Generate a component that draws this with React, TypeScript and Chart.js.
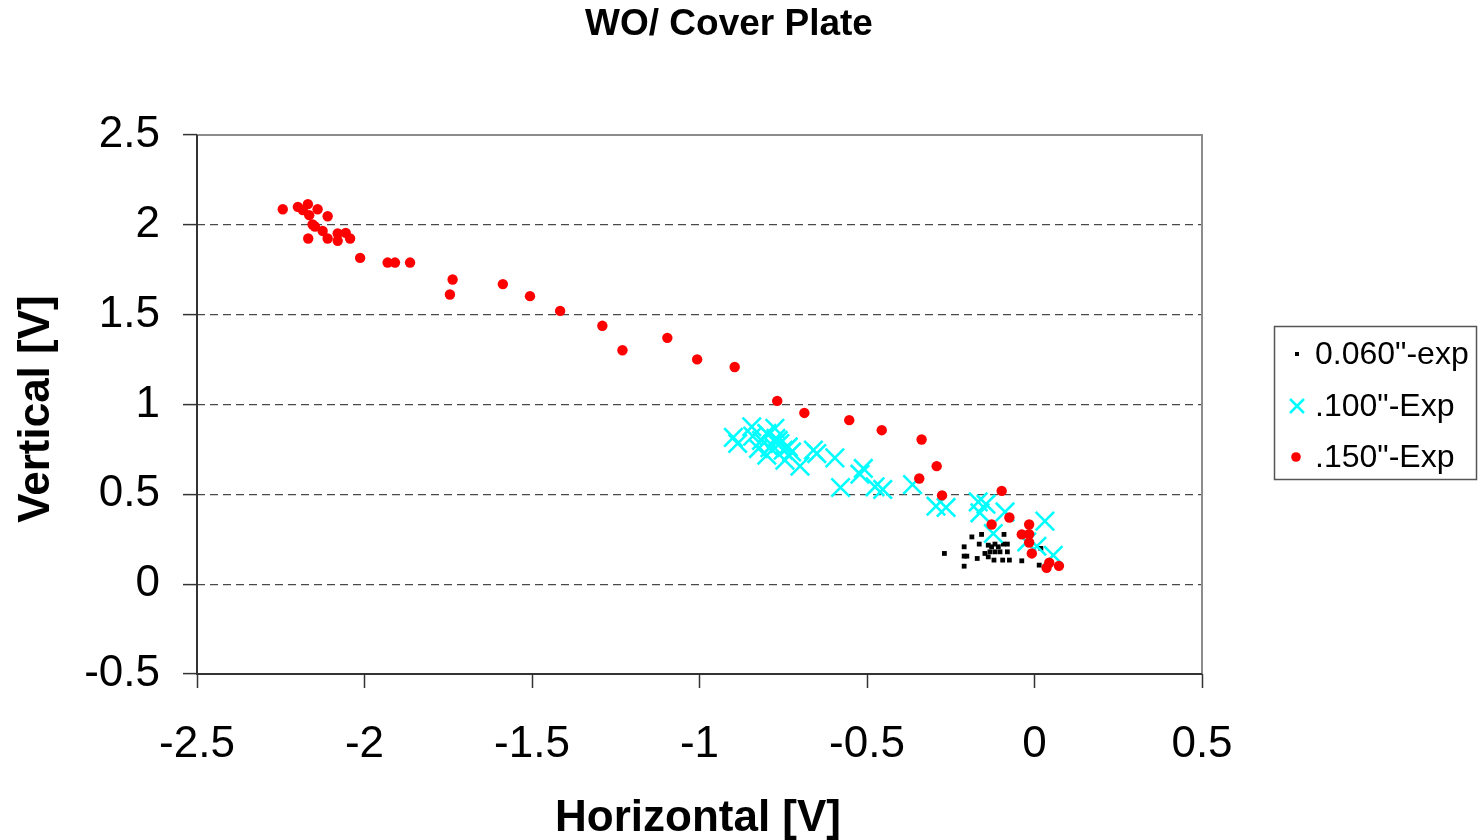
import React, { useEffect, useRef } from "react";
import { Chart, registerables } from "chart.js";

Chart.register(...registerables);

const TITLE = "WO/ Cover Plate";
const X_TITLE = "Horizontal [V]";
const Y_TITLE = "Vertical [V]";
const SERIES_NAMES = ['0.060"-exp', '.100"-Exp', '.150"-Exp'];

const X_MIN = -2.5, X_MAX = 0.5, Y_MIN = -0.5, Y_MAX = 2.5, STEP = 0.5;

const blackX = [-0.269, -0.210, -0.210, -0.202, -0.210, -0.187, -0.158, -0.165, -0.171, -0.148, -0.138, -0.128, -0.118, -0.108, -0.093, -0.081, -0.133, -0.118, -0.103, -0.081, -0.138, -0.121, -0.095, -0.075, -0.091, -0.038, 0.014, 0.019];
const blackY = [0.171, 0.208, 0.156, 0.156, 0.100, 0.263, 0.277, 0.223, 0.143, 0.171, 0.217, 0.208, 0.223, 0.208, 0.223, 0.223, 0.180, 0.180, 0.180, 0.180, 0.152, 0.134, 0.134, 0.134, 0.277, 0.130, 0.106, 0.199];

const cyanX = [-0.899, -0.886, -0.844, -0.841, -0.824, -0.799, -0.775, -0.772, -0.784, -0.760, -0.750, -0.735, -0.799, -0.745, -0.725, -0.700, -0.660, -0.650, -0.596, -0.579, -0.511, -0.521, -0.476, -0.453, -0.364, -0.294, -0.264, -0.168, -0.145, -0.163, -0.088, -0.123, 0.031, -0.023, 0.007, 0.056, -0.815, -0.790, -0.765];
const cyanY = [0.817, 0.783, 0.876, 0.824, 0.755, 0.839, 0.867, 0.811, 0.774, 0.783, 0.746, 0.764, 0.718, 0.690, 0.736, 0.657, 0.746, 0.727, 0.703, 0.538, 0.644, 0.612, 0.542, 0.527, 0.554, 0.434, 0.427, 0.458, 0.445, 0.397, 0.402, 0.282, 0.351, 0.235, 0.211, 0.161, 0.800, 0.760, 0.800];

const redX = [-2.244, -2.199, -2.169, -2.140, -2.110, -2.184, -2.165, -2.155, -2.148, -2.125, -2.168, -2.110, -2.080, -2.080, -2.056, -2.043, -2.013, -1.931, -1.909, -1.864, -1.737, -1.745, -1.587, -1.506, -1.416, -1.290, -1.230, -1.096, -1.007, -0.895, -0.768, -0.687, -0.553, -0.456, -0.337, -0.292, -0.344, -0.276, -0.098, -0.075, -0.128, -0.016, -0.038, -0.016, -0.016, -0.008, 0.044, 0.036, 0.073];
const redY = [2.087, 2.100, 2.115, 2.087, 2.048, 2.082, 2.054, 2.002, 1.991, 1.966, 1.924, 1.924, 1.952, 1.911, 1.955, 1.924, 1.816, 1.790, 1.790, 1.790, 1.696, 1.612, 1.670, 1.603, 1.521, 1.438, 1.302, 1.371, 1.251, 1.209, 1.020, 0.953, 0.913, 0.857, 0.805, 0.657, 0.588, 0.494, 0.519, 0.371, 0.332, 0.332, 0.277, 0.278, 0.232, 0.171, 0.119, 0.091, 0.102];

const FONT = "'Liberation Sans', Arial, sans-serif";

const pts = (xs: number[], ys: number[]) => xs.map((x, i) => ({ x, y: ys[i] }));

const fmt = (v: number) => String(Math.round(v * 10) / 10);

const decorPlugin = {
  id: "decor",
  beforeDatasetsDraw(chart: any) {
    const { ctx, chartArea } = chart;
    const { left, right, top, bottom } = chartArea;
    ctx.save();
    ctx.setLineDash([]);
    ctx.strokeStyle = "#8c8c8c";
    ctx.lineWidth = 2;
    ctx.beginPath();
    ctx.moveTo(left, top);
    ctx.lineTo(right, top);
    ctx.lineTo(right, bottom);
    ctx.stroke();
    ctx.strokeStyle = "#333333";
    ctx.lineWidth = 2;
    ctx.beginPath();
    ctx.moveTo(left, top);
    ctx.lineTo(left, bottom);
    ctx.lineTo(right, bottom);
    ctx.stroke();
    ctx.restore();
  },
  afterDraw(chart: any) {
    const { ctx } = chart;
    ctx.save();
    ctx.fillStyle = "#000";
    ctx.textBaseline = "alphabetic";
    ctx.textAlign = "center";
    ctx.font = `bold 37px ${FONT}`;
    ctx.fillText(TITLE, 729, 35);
    ctx.font = `bold 44px ${FONT}`;
    ctx.fillText(X_TITLE, 698, 831);
    ctx.save();
    ctx.translate(49, 409);
    ctx.rotate(-Math.PI / 2);
    ctx.fillText(Y_TITLE, 0, 0);
    ctx.restore();

    ctx.strokeStyle = "#555";
    ctx.lineWidth = 1.5;
    ctx.strokeRect(1274.5, 326.5, 202, 153);
    ctx.font = `32px ${FONT}`;
    ctx.textAlign = "left";
    const ys = [354, 406, 457];
    SERIES_NAMES.forEach((name, i) => {
      ctx.fillText(name, 1315, ys[i] + 10);
    });
    ctx.fillStyle = "#000";
    ctx.fillRect(1295, 352, 4, 4);
    ctx.strokeStyle = "#00FFFF";
    ctx.lineWidth = 2.5;
    ctx.beginPath();
    ctx.moveTo(1290, 399);
    ctx.lineTo(1304, 413);
    ctx.moveTo(1304, 399);
    ctx.lineTo(1290, 413);
    ctx.stroke();
    ctx.fillStyle = "#FF0000";
    ctx.beginPath();
    ctx.arc(1296, 457, 4.8, 0, Math.PI * 2);
    ctx.fill();
    ctx.restore();
  },
};

export default function App() {
  const ref = useRef<HTMLCanvasElement | null>(null);

  useEffect(() => {
    if (!ref.current) return;
    const chart = new Chart(ref.current, {
      type: "scatter",
      data: {
        datasets: [
          {
            label: SERIES_NAMES[0],
            data: pts(blackX, blackY),
            pointStyle: "rect",
            pointRadius: 3.4,
            pointBackgroundColor: "#000000",
            pointBorderWidth: 0,
            borderWidth: 0,
            order: 2,
          },
          {
            label: SERIES_NAMES[1],
            data: pts(cyanX, cyanY),
            pointStyle: "crossRot",
            pointRadius: 13,
            pointBorderColor: "#00FFFF",
            pointBackgroundColor: "#00FFFF",
            pointBorderWidth: 2.6,
            order: 1,
          },
          {
            label: SERIES_NAMES[2],
            data: pts(redX, redY),
            pointStyle: "circle",
            pointRadius: 5.2,
            pointBackgroundColor: "#FF0000",
            pointBorderWidth: 0,
            borderWidth: 0,
            order: 0,
          },
        ],
      },
      options: {
        responsive: true,
        maintainAspectRatio: false,
        animation: false,
        events: [],
        layout: { padding: { left: 0, right: 279, top: 135, bottom: 0 } },
        plugins: {
          legend: { display: false },
          title: { display: false },
          tooltip: { enabled: false },
        },
        scales: {
          x: {
            type: "linear",
            min: X_MIN,
            max: X_MAX,
            ticks: {
              stepSize: STEP,
              font: { family: FONT, size: 44 },
              color: "#000",
              padding: 30,
              maxRotation: 0,
              autoSkip: false,
              callback: (v: any) => fmt(Number(v)),
            },
            grid: {
              drawOnChartArea: false,
              drawTicks: true,
              tickLength: 14,
              tickColor: "#333",
              tickWidth: 1.5,
            },
            border: { display: false },
            afterFit: (s: any) => {
              s.height = 166;
              s.paddingLeft = 0;
              s.paddingRight = 0;
              s.paddingTop = 0;
              s.paddingBottom = 0;
            },
          },
          y: {
            type: "linear",
            min: Y_MIN,
            max: Y_MAX,
            ticks: {
              stepSize: STEP,
              font: { family: FONT, size: 44 },
              color: "#000",
              padding: 23,
              autoSkip: false,
              callback: (v: any) => fmt(Number(v)),
            },
            grid: {
              drawOnChartArea: true,
              drawTicks: true,
              tickLength: 14,
              tickColor: "#333",
              tickWidth: 1.5,
              lineWidth: 1.2,
              color: (c: any) => {
                const v = c.tick ? c.tick.value : 0;
                if (Math.abs(v - Y_MAX) < 1e-6 || Math.abs(v - Y_MIN) < 1e-6) return "rgba(0,0,0,0)";
                return "#4a4a4a";
              },
            },
            border: { display: false, dash: [8, 5] },
            afterFit: (s: any) => {
              s.width = 197;
              s.paddingLeft = 0;
              s.paddingRight = 0;
              s.paddingTop = 0;
              s.paddingBottom = 0;
            },
          },
        },
      },
      plugins: [decorPlugin],
    });
    return () => chart.destroy();
  }, []);

  return (
    <div style={{ position: "absolute", left: 0, top: 0, width: 1481, height: 840, background: "#fff" }}>
      <canvas ref={ref} />
    </div>
  );
}
